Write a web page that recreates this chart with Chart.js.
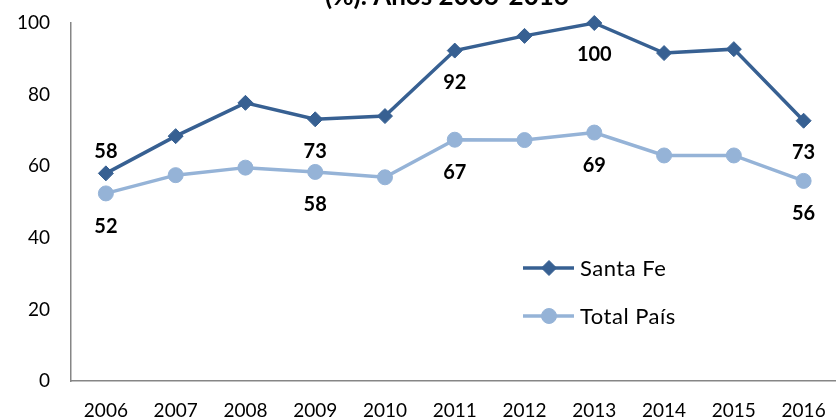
<!DOCTYPE html>
<html>
<head>
<meta charset="utf-8">
<script src="https://cdn.jsdelivr.net/npm/chart.js@4.4.1/dist/chart.umd.min.js"></script>
<style>
  html, body { margin: 0; padding: 0; background: #fff; }
  #wrap { position: relative; width: 836px; height: 419px; overflow: hidden; }
  #chart { position: absolute; left: 0; top: 0; }
</style>
</head>
<body>
<div id="wrap"><canvas id="chart" width="847" height="419"></canvas></div>
<script>
const years = ['2006', '2007', '2008', '2009', '2010', '2011', '2012', '2013', '2014', '2015', '2016'];
const santaFe = [58, 68.4, 77.7, 73.1, 74.0, 92.3, 96.4, 100, 91.6, 92.7, 72.7];
const totalPais = [52.4, 57.5, 59.6, 58.4, 56.9, 67.4, 67.3, 69.4, 63.0, 63.0, 55.9];
const labelledYears = ['2006', '2009', '2011', '2013', '2016'];
const yTicks = [0, 20, 40, 60, 80, 100];
const titleText = '(%). Años 2006-2016';

const FONT = 'Lato, "Open Sans", sans-serif';
const sfColor = '#376092';
const tpColor = '#95B3D7';

// point labels, legend and the clipped title
const extras = {
    id: 'extras',
    afterDatasetsDraw(chart) {
        const ctx = chart.ctx;
        const area = chart.chartArea;
        ctx.save();

        // title (only its lower part shows in the frame)
        ctx.fillStyle = '#000';
        ctx.font = 'bold 26px ' + FONT;
        ctx.textAlign = 'center';
        ctx.textBaseline = 'alphabetic';
        ctx.fillText(titleText, 447, 5);

        // value labels
        ctx.font = 'bold 20px ' + FONT;
        ctx.textBaseline = 'middle';
        chart.data.datasets.forEach((ds, di) => {
            const meta = chart.getDatasetMeta(di);
            labelledYears.forEach(y => {
                const i = years.indexOf(y);
                const p = meta.data[i];
                let dy = di === 0 ? 32 : 33;
                if (di === 0 && i === 0) dy = -22;
                ctx.fillText(Math.round(ds.data[i]), p.x, p.y + dy);
            });
        });

        // legend inside plot
        const lx = area.left + 452;
        const rows = [area.top + 245, area.top + 293];
        chart.data.datasets.forEach((ds, di) => {
            const y = rows[di];
            ctx.strokeStyle = ds.borderColor;
            ctx.fillStyle = ds.borderColor;
            ctx.lineWidth = 3.5;
            ctx.beginPath();
            ctx.moveTo(lx, y);
            ctx.lineTo(lx + 51, y);
            ctx.stroke();
            ctx.lineWidth = 1;
            Chart.helpers.drawPoint(ctx, {
                pointStyle: ds.pointStyle,
                radius: ds.pointRadius,
                rotation: 0,
                borderWidth: 1
            }, lx + 26, y);
            ctx.fillStyle = '#000';
            ctx.font = '22px ' + FONT;
            ctx.letterSpacing = '0.5px';
            ctx.textAlign = 'left';
            ctx.fillText(ds.label, lx + 57, y + 1);
            ctx.letterSpacing = '0px';
        });
        ctx.restore();
    }
};

new Chart(document.getElementById('chart'), {
    type: 'line',
    data: {
        labels: years,
        datasets: [{
            label: 'Santa Fe',
            data: santaFe,
            borderColor: sfColor,
            backgroundColor: sfColor,
            borderWidth: 3.5,
            pointStyle: 'rectRot',
            pointRadius: 7.5,
            pointBackgroundColor: sfColor,
            pointBorderColor: sfColor,
            pointBorderWidth: 1,
            tension: 0,
            clip: false
        }, {
            label: 'Total País',
            data: totalPais,
            borderColor: tpColor,
            backgroundColor: tpColor,
            borderWidth: 3.5,
            pointStyle: 'circle',
            pointRadius: 7.5,
            pointBackgroundColor: tpColor,
            pointBorderColor: tpColor,
            pointBorderWidth: 1,
            tension: 0,
            clip: false
        }]
    },
    options: {
        responsive: false,
        animation: false,
        devicePixelRatio: 1,
        layout: { padding: { top: 23, left: 0, right: 0, bottom: 0 } },
        plugins: {
            legend: { display: false },
            tooltip: { enabled: false },
            title: { display: false }
        },
        scales: {
            x: {
                offset: true,
                grid: { display: false, drawTicks: false },
                border: { display: true, color: '#868686', width: 1.5 },
                ticks: { color: '#000', font: { family: FONT, size: 19 }, padding: 18, maxRotation: 0, autoSkip: false },
                afterFit(scale) {
                    scale.height = 38;
                    scale.paddingLeft = 0;
                    scale.paddingRight = 0;
                }
            },
            y: {
                min: 0,
                max: 100,
                grid: { display: false, drawTicks: false },
                border: { display: true, color: '#868686', width: 1.5 },
                ticks: { color: '#000', font: { family: FONT, size: 19 }, padding: 21, stepSize: 20 },
                afterBuildTicks(scale) { scale.ticks = yTicks.map(v => ({ value: v })); },
                afterFit(scale) {
                    scale.width = 71;
                    scale.paddingTop = 0;
                    scale.paddingBottom = 0;
                }
            }
        }
    },
    plugins: [extras]
});
</script>
</body>
</html>
